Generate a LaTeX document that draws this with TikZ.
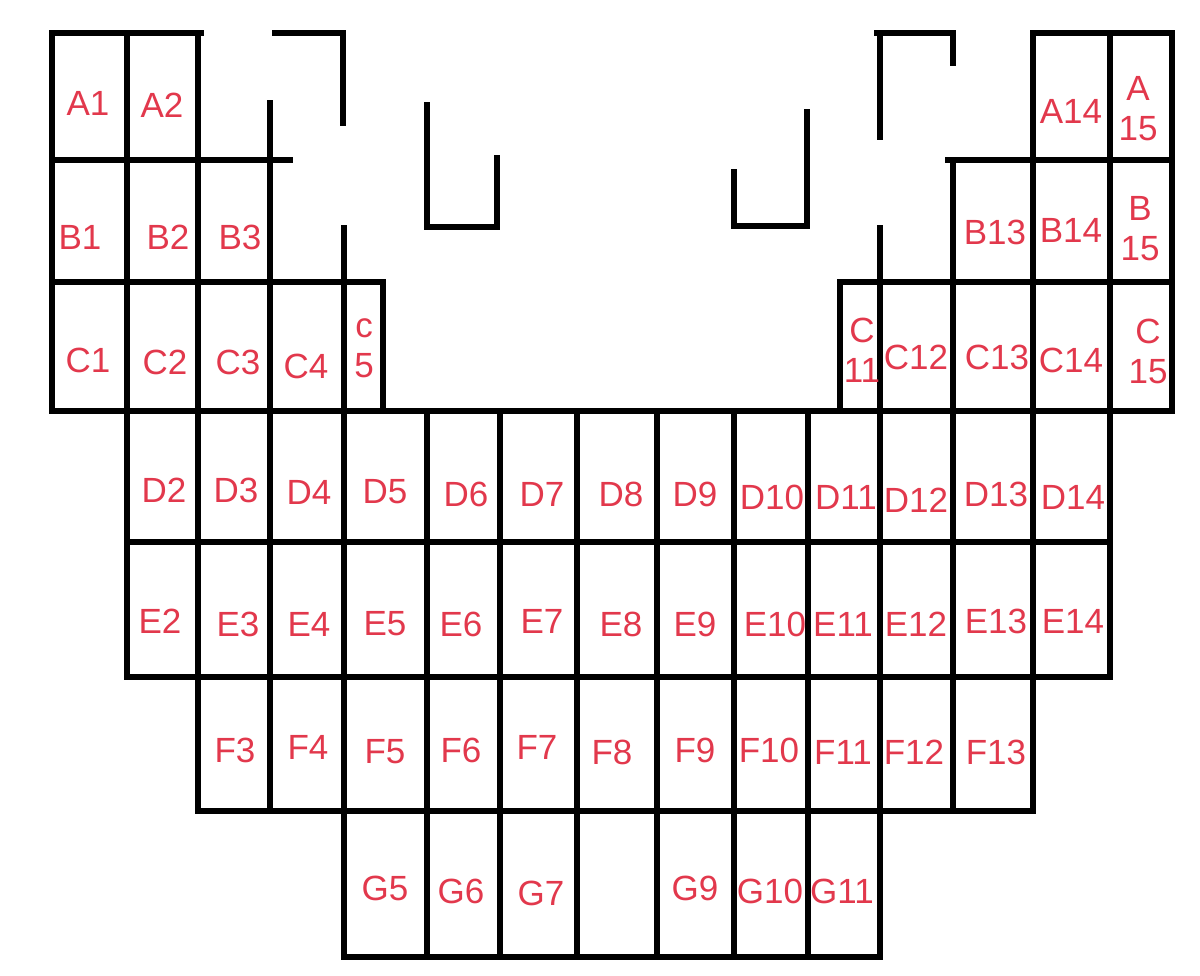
\documentclass[tikz,border=0pt]{standalone}
\usepackage{fontspec}
\setmainfont{Liberation Sans}
\definecolor{seatred}{RGB}{226,56,76}
\begin{document}
\begin{tikzpicture}[x=1pt,y=-1pt,
  wall/.style={line width=5.5pt,line cap=rect,black},
  seat/.style={text=seatred,font=\fontsize{35}{40}\selectfont,inner sep=0pt,align=center}]
\fill[white] (0,0) rectangle (1200,976);
\useasboundingbox (0,0) rectangle (1200,976);
% horizontal lines
\draw[wall] (52,33) -- (201,33);
\draw[wall] (275,33) -- (343,33);
\draw[wall] (877,33) -- (953,33);
\draw[wall] (1034,33) -- (1172,33);
\draw[wall] (52,160) -- (290,160);
\draw[wall] (948,160) -- (1172,160);
\draw[wall] (52,282) -- (383,282);
\draw[wall] (840,282) -- (1172,282);
\draw[wall] (52,411) -- (1172,411);
\draw[wall] (127,542) -- (1110,542);
\draw[wall] (127,677) -- (1110,677);
\draw[wall] (198,811) -- (1033,811);
\draw[wall] (344,957) -- (880,957);
% U fragments
\draw[wall] (427,105) -- (427,227) -- (497,227) -- (497,158);
\draw[wall] (734,172) -- (734,226) -- (807,226) -- (807,112);
% vertical lines
\draw[wall] (52,33) -- (52,411);
\draw[wall] (127,33) -- (127,677);
\draw[wall] (198,33) -- (198,811);
\draw[wall] (270,103) -- (270,811);
\draw[wall] (343,33) -- (343,123);
\draw[wall] (344,228) -- (344,957);
\draw[wall] (383,282) -- (383,411);
\draw[wall] (427,411) -- (427,957);
\draw[wall] (500,411) -- (500,957);
\draw[wall] (577,411) -- (577,957);
\draw[wall] (657,411) -- (657,957);
\draw[wall] (734,411) -- (734,957);
\draw[wall] (808,411) -- (808,957);
\draw[wall] (840,282) -- (840,411);
\draw[wall] (880,33) -- (880,137);
\draw[wall] (880,228) -- (880,957);
\draw[wall] (953,33) -- (953,63);
\draw[wall] (953,160) -- (953,811);
\draw[wall] (1033,33) -- (1033,811);
\draw[wall] (1110,33) -- (1110,677);
\draw[wall] (1172,33) -- (1172,411);
% labels row A
\node[seat] (A1) at (88,103) {A1};
\node[seat] (A2) at (162,105) {A2};
\node[seat] (A14) at (1071,111) {A14};
\node[seat] (A15) at (1138,109) {A\\15};
% row B
\node[seat] (B1) at (80,237) {B1};
\node[seat] (B2) at (168,237) {B2};
\node[seat] (B3) at (240,237) {B3};
\node[seat] (B13) at (995,232) {B13};
\node[seat] (B14) at (1071,230) {B14};
\node[seat] (B15) at (1140,229) {B\\15};
% row C
\node[seat] (C1) at (88,360) {C1};
\node[seat] (C2) at (165,362) {C2};
\node[seat] (C3) at (238,362) {C3};
\node[seat] (C4) at (306,366) {C4};
\node[seat] (C5) at (364,348) {c\\5};
\node[seat] (C11) at (862,350) {C\\11};
\node[seat] (C12) at (916,357) {C12};
\node[seat] (C13) at (997,357) {C13};
\node[seat] (C14) at (1071,360) {C14};
\node[seat] (C15) at (1148,351) {C\\15};
% row D
\node[seat] (D2) at (164,490) {D2};
\node[seat] (D3) at (236,490) {D3};
\node[seat] (D4) at (309,492) {D4};
\node[seat] (D5) at (385,492) {D5};
\node[seat] (D6) at (466,494) {D6};
\node[seat] (D7) at (542,494) {D7};
\node[seat] (D8) at (621,494) {D8};
\node[seat] (D9) at (695,494) {D9};
\node[seat] (D10) at (772,497) {D10};
\node[seat] (D11) at (846,497) {D11};
\node[seat] (D12) at (916,500) {D12};
\node[seat] (D13) at (996,494) {D13};
\node[seat] (D14) at (1073,497) {D14};
% row E
\node[seat] (E2) at (160,621) {E2};
\node[seat] (E3) at (238,624) {E3};
\node[seat] (E4) at (309,624) {E4};
\node[seat] (E5) at (385,624) {E5};
\node[seat] (E6) at (461,624) {E6};
\node[seat] (E7) at (542,621) {E7};
\node[seat] (E8) at (621,624) {E8};
\node[seat] (E9) at (695,624) {E9};
\node[seat] (E10) at (775,624) {E10};
\node[seat] (E11) at (843,624) {E11};
\node[seat] (E12) at (916,624) {E12};
\node[seat] (E13) at (996,621) {E13};
\node[seat] (E14) at (1073,621) {E14};
% row F
\node[seat] (F3) at (235,750) {F3};
\node[seat] (F4) at (308,747) {F4};
\node[seat] (F5) at (385,752) {F5};
\node[seat] (F6) at (461,750) {F6};
\node[seat] (F7) at (537,747) {F7};
\node[seat] (F8) at (612,752) {F8};
\node[seat] (F9) at (695,750) {F9};
\node[seat] (F10) at (769,750) {F10};
\node[seat] (F11) at (843,752) {F11};
\node[seat] (F12) at (914,752) {F12};
\node[seat] (F13) at (996,752) {F13};
% row G
\node[seat] (G5) at (385,888) {G5};
\node[seat] (G6) at (461,891) {G6};
\node[seat] (G7) at (541,893) {G7};
\node[seat] (G9) at (695,888) {G9};
\node[seat] (G10) at (770,891) {G10};
\node[seat] (G11) at (842,891) {G11};
\end{tikzpicture}
\end{document}
